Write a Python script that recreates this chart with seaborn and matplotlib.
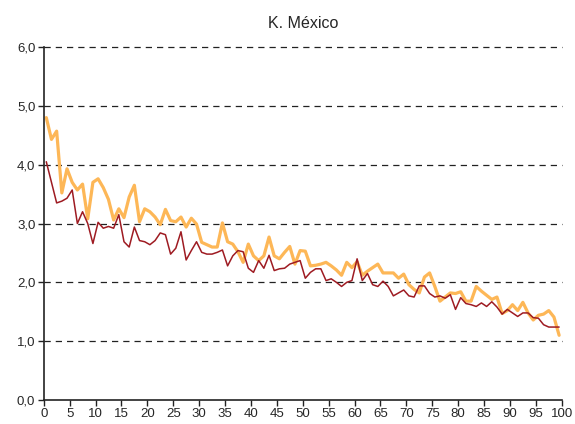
import numpy as np
import pandas as pd
import matplotlib
matplotlib.use("Agg")
import matplotlib.pyplot as plt
import seaborn as sns

# edades 0..99, values
edad = np.arange(100)

serie_naranja = [4.80, 4.43, 4.57, 3.52, 3.93, 3.70, 3.57, 3.67, 3.08, 3.70,
                 3.76, 3.61, 3.41, 3.06, 3.25, 3.10, 3.45, 3.65, 3.03, 3.25,
                 3.20, 3.11, 2.98, 3.24, 3.05, 3.03, 3.11, 2.94, 3.09, 2.99,
                 2.68, 2.64, 2.60, 2.60, 3.01, 2.69, 2.65, 2.52, 2.34, 2.65,
                 2.45, 2.37, 2.45, 2.77, 2.45, 2.40, 2.51, 2.61, 2.31, 2.54,
                 2.53, 2.28, 2.29, 2.31, 2.34, 2.28, 2.21, 2.12, 2.34, 2.25,
                 2.35, 2.12, 2.19, 2.25, 2.31, 2.16, 2.16, 2.16, 2.07, 2.14,
                 1.96, 1.88, 1.82, 2.09, 2.16, 1.93, 1.68, 1.75, 1.82, 1.81,
                 1.84, 1.68, 1.68, 1.93, 1.85, 1.78, 1.71, 1.75, 1.47, 1.52,
                 1.62, 1.52, 1.66, 1.48, 1.36, 1.44, 1.46, 1.52, 1.41, 1.10]

serie_roja = [4.05, 3.70, 3.35, 3.38, 3.43, 3.57, 3.00, 3.20, 3.00, 2.66,
              3.02, 2.92, 2.95, 2.92, 3.15, 2.69, 2.60, 2.94, 2.71, 2.69,
              2.64, 2.71, 2.84, 2.81, 2.48, 2.58, 2.86, 2.38, 2.54, 2.69,
              2.51, 2.48, 2.48, 2.51, 2.55, 2.28, 2.45, 2.54, 2.52, 2.24,
              2.17, 2.37, 2.24, 2.46, 2.20, 2.23, 2.24, 2.31, 2.34, 2.37,
              2.07, 2.17, 2.23, 2.23, 2.03, 2.06, 2.00, 1.93, 2.00, 2.03,
              2.40, 2.03, 2.15, 1.96, 1.93, 2.02, 1.93, 1.77, 1.82, 1.87,
              1.77, 1.75, 1.94, 1.94, 1.81, 1.75, 1.77, 1.73, 1.79, 1.54,
              1.74, 1.64, 1.62, 1.59, 1.65, 1.59, 1.67, 1.58, 1.46, 1.54,
              1.48, 1.42, 1.48, 1.48, 1.40, 1.39, 1.28, 1.24, 1.24, 1.24]

x_ticks = list(range(0, 101, 5))
y_ticks = [0, 1, 2, 3, 4, 5, 6]
y_labels = ["0,0", "1,0", "2,0", "3,0", "4,0", "5,0", "6,0"]

df = pd.DataFrame({"edad": edad + 0.5, "naranja": serie_naranja, "roja": serie_roja})

sns.set_style("white")
plt.rcParams["font.family"] = ["Liberation Sans", "DejaVu Sans"]

fig = plt.figure(figsize=(5.75, 4.24), dpi=100)
ax = fig.add_axes([0.076, 0.0566, 0.9009, 0.8325])

# gridlines
for yv in y_ticks[1:]:
    ax.axhline(yv, color="#222222", lw=0.9, ls=(0, (5, 4)), zorder=0, clip_on=False)

sns.lineplot(data=df, x="edad", y="naranja", ax=ax, color="#FDB757", lw=2.3)
sns.lineplot(data=df, x="edad", y="roja", ax=ax, color="#9E1B22", lw=1.1)

ax.set_xlim(0, 100)
ax.set_ylim(0, 6)
ax.set_xticks(x_ticks)
ax.set_xticklabels([str(t) for t in x_ticks], fontsize=9.5)
ax.set_yticks(y_ticks)
ax.set_yticklabels(y_labels, fontsize=9.5)
ax.set_xlabel("")
ax.set_ylabel("")
ax.tick_params(axis="both", direction="out", length=4, width=1, color="#222222",
               pad=2, bottom=True, left=True)

for side in ["top", "right"]:
    ax.spines[side].set_visible(False)
for side in ["left", "bottom"]:
    ax.spines[side].set_color("#222222")
    ax.spines[side].set_linewidth(1.2)

ax.set_title("K. México", fontsize=11.5, pad=14)

fig.savefig("out.png", dpi=100)
